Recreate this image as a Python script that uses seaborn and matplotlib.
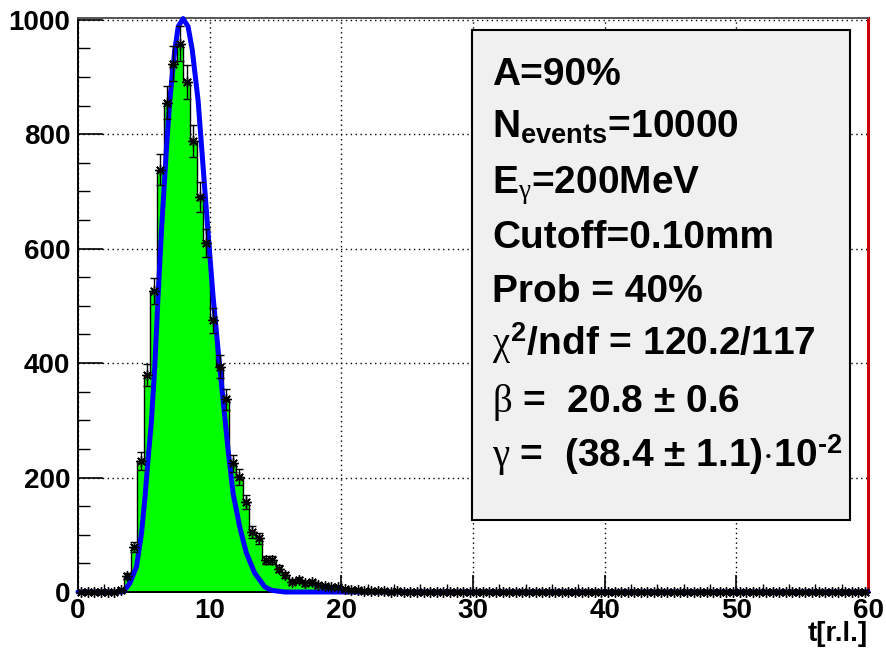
import numpy as np
import pandas as pd
import matplotlib
matplotlib.use("Agg")
import matplotlib.pyplot as plt
import seaborn as sns
from matplotlib.patches import Rectangle
from matplotlib.ticker import MultipleLocator

# ---------------- data ----------------
bin_width = 0.5
n_bins = 120
t_range = (0, 60)
counts = [
    0, 0, 0, 0, 0, 0, 3, 28, 78, 229, 379, 526, 738, 855, 923, 958, 891, 788, 690, 610,
    475, 394, 337, 225, 201, 157, 105, 94, 56, 56, 41, 30, 18, 21, 15, 17, 12, 10, 8, 8,
    5, 4, 3, 2, 2, 1, 1, 0, 1, 0, 0, 0, 0, 0, 0, 0, 0, 0, 0, 0,
    0, 0, 0, 0, 0, 0, 0, 0, 0, 0, 0, 0, 0, 0, 0, 0, 0, 0, 0, 0,
    0, 0, 0, 0, 0, 0, 0, 0, 0, 0, 0, 0, 0, 0, 0, 0, 0, 0, 0, 0,
    0, 0, 0, 0, 0, 0, 0, 0, 0, 0, 0, 0, 0, 0, 0, 0, 0, 0, 0, 0,
]
fit_t = [0.0, 3.3, 3.43, 3.93, 4.44, 4.82, 5.07, 5.32, 5.58, 5.83,
         6.08, 6.33, 6.71, 6.97, 7.35, 7.61, 7.98, 8.36, 8.68, 9.12,
         9.50, 9.88, 10.26, 10.64, 11.02, 11.40, 11.78, 12.28, 12.79, 13.42,
         14.18, 14.69, 15.7, 60.0]
fit_y = [0, 0, 0.5, 15, 44, 102, 161, 231, 300, 394,
         516, 627, 772, 859, 947, 988, 1002, 988, 947, 859,
         743, 627, 516, 423, 335, 248, 172, 114, 68, 33,
         9, 3, 0, 0]
x_ticks = [0, 10, 20, 30, 40, 50, 60]
y_ticks = [0, 200, 400, 600, 800, 1000]
x_label = "t[r.l.]"
stats_lines = [
    "A=90%",
    r"$\mathrm{N_{events}}$=10000",
    r"$\mathrm{E}_{\gamma}$=200MeV",
    "Cutoff=0.10mm",
    "Prob = 40%",
    r"$\chi^{\mathrm{2}}$/ndf = 120.2/117",
    r"$\beta$ =  20.8 $\pm$ 0.6",
    r"$\gamma$ =  (38.4 $\pm$ 1.1)$\cdot$10$^{\text{-2}}$",
]

# ---------------- style ----------------
sns.set_theme(style="white")
plt.rcParams["font.family"] = ["Liberation Sans", "DejaVu Sans"]
plt.rcParams["text.color"] = "black"
plt.rcParams["xtick.color"] = "black"
plt.rcParams["ytick.color"] = "black"
plt.rcParams["axes.labelcolor"] = "black"
plt.rcParams["mathtext.fontset"] = "custom"
plt.rcParams["mathtext.rm"] = "Liberation Sans:bold"
plt.rcParams["mathtext.bf"] = "Liberation Sans:bold"
plt.rcParams["mathtext.sf"] = "Liberation Sans:bold"
plt.rcParams["mathtext.it"] = "Liberation Serif:weight=normal"
plt.rcParams["mathtext.default"] = "it"

W, H = 886, 653
fig = plt.figure(figsize=(W / 100, H / 100), dpi=100)
ax = fig.add_axes([78 / W, 1 - 592 / H, (868 - 78) / W, (592 - 18) / H])

edges = np.linspace(t_range[0], t_range[1], n_bins + 1)
centers = edges[:-1] + bin_width / 2
df = pd.DataFrame({"t": centers, "n": counts})

sns.histplot(data=df, x="t", weights="n", binwidth=bin_width, binrange=t_range,
             element="step", fill=True, color="#00ff00", alpha=1,
             edgecolor="black", linewidth=1.0, ax=ax, zorder=2)

sns.lineplot(x=fit_t, y=fit_y, color="#0000ff", lw=3.6, ax=ax, zorder=4, clip_on=False,
             estimator=None)

err = np.sqrt(np.array(counts, dtype=float))
ax.errorbar(centers, counts, yerr=err, fmt="none", ecolor="black", elinewidth=1.0,
            capsize=2.6, capthick=1.0, zorder=5, clip_on=False)
ax.plot(centers, counts, ls="none", marker=(8, 2, 0), ms=7.5, mec="black", mfc="black",
        mew=1.0, zorder=6, clip_on=False)

ax.set_xlim(0, 60)
ax.set_ylim(0, 1003)
ax.set_xticks(x_ticks)
ax.set_yticks(y_ticks)
ax.xaxis.set_minor_locator(MultipleLocator(2))
ax.yaxis.set_minor_locator(MultipleLocator(50))
ax.set_xlabel("")
ax.set_ylabel("")

ax.grid(True, which="major", linestyle=(0, (1, 2.5)), color="black", lw=1.0)
ax.set_axisbelow(True)

ax.tick_params(axis="y", which="major", direction="in", length=18, width=1.2,
               labelsize=20, pad=5.5, left=True, colors="black")
ax.tick_params(axis="y", which="minor", direction="in", length=8.5, width=1.0, left=True)
ax.tick_params(axis="x", which="major", direction="in", length=12, width=1.2,
               labelsize=20, pad=4.5, bottom=True, colors="black")
ax.tick_params(axis="x", which="minor", direction="in", length=6, width=1.0, bottom=True)
for lab in ax.get_xticklabels() + ax.get_yticklabels():
    lab.set_fontweight("bold")

for side in ["left", "bottom", "top"]:
    ax.spines[side].set_visible(True)
    ax.spines[side].set_color("black")
    ax.spines[side].set_linewidth(1.4)
ax.spines["top"].set_color("#555555")
ax.spines["right"].set_visible(True)
ax.spines["right"].set_color("#cc0000")
ax.spines["right"].set_linewidth(2.2)

fig.text(868 / W, 1 - 641 / H, x_label, ha="right", va="baseline", fontsize=20,
         fontweight="bold", color="black")

# stats box
box = Rectangle((472 / W, 1 - 520 / H), (850 - 472) / W, (520 - 30) / H,
                transform=fig.transFigure, facecolor="#f0f0f0", edgecolor="black",
                lw=1.5, zorder=5)
fig.add_artist(box)
baselines = [85, 138, 193, 248, 302, 355, 412, 467]
for yb, line in zip(baselines, stats_lines):
    fig.text(492 / W, 1 - yb / H, line, ha="left", va="baseline", fontsize=28,
             fontweight="bold", color="black", zorder=6)

fig.savefig("out.png", dpi=100)
